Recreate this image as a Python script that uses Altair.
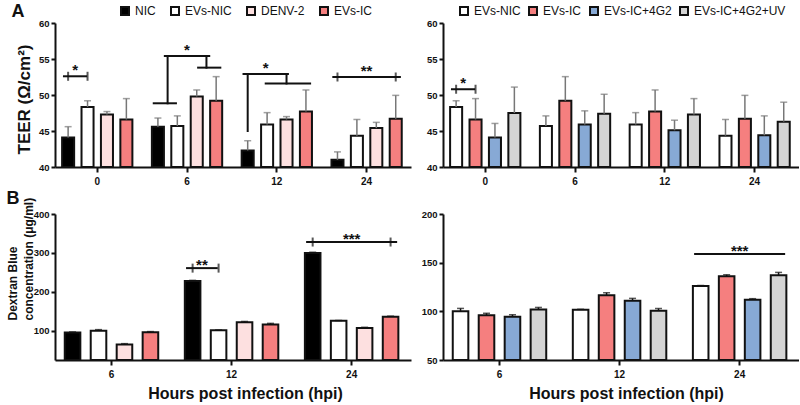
import altair as alt
import pandas as pd

FONT = "Liberation Sans"

TIMES_A = ["0", "6", "12", "24"]
TIMES_B = ["6", "12", "24"]
SERIES_LEFT = ["NIC", "EVs-NIC", "DENV-2", "EVs-IC"]
SERIES_RIGHT = ["EVs-NIC", "EVs-IC", "EVs-IC+4G2", "EVs-IC+4G2+UV"]
FILL = {
    "NIC": "#000000",
    "EVs-NIC": "#ffffff",
    "DENV-2": "#fde0e0",
    "EVs-IC": "#f57f7f",
    "EVs-IC+4G2": "#87a9d5",
    "EVs-IC+4G2+UV": "#d4d4d4",
}
# bracket anchor slots: even slots sit on bars 0..3, odd slots between neighbours
SLOTS = ["0", "1", "2", "3", "4", "5", "6"]
PANEL_LETTERS = ["A", "B"]
TEER_TITLE = "TEER (Ω/cm²)"
DEX_TITLE = ["Dextran Blue", "concentration  (μg/ml)"]
X_TITLE = "Hours post infection (hpi)"

# TEER (Ω/cm²): mean and SD at 0, 6, 12, 24 hpi
teer_nic = [44.1, 45.6, 42.3, 41.0]
teer_nic_sd = [1.5, 1.2, 1.35, 1.1]
teer_evs_nic = [48.35, 45.7, 45.9, 44.35]
teer_evs_nic_sd = [0.85, 1.4, 1.65, 2.25]
teer_denv = [47.3, 49.8, 46.6, 45.4]
teer_denv_sd = [0.4, 0.9, 0.4, 0.8]
teer_evs_ic = [46.6, 49.2, 47.7, 46.7]
teer_evs_ic_sd = [2.9, 3.35, 3.0, 3.25]
teer_4g2 = [44.1, 45.9, 45.1, 44.4]
teer_4g2_sd = [1.95, 1.9, 1.4, 2.7]
teer_uv = [47.5, 47.4, 47.3, 46.3]
teer_uv_sd = [3.6, 2.7, 2.2, 2.7]

# Dextran Blue concentration (μg/ml): mean and SD at 6, 12, 24 hpi
dex_nic = [95.5, 228, 300]
dex_nic_sd = [1.5, 1.5, 2]
dex_evs_nic = [100, 101.5, 126]
dex_evs_nic_sd = [3, 0.6, 0.5]
dex_denv = [65, 122, 107]
dex_denv_sd = [2, 2, 2]
dex_evs_ic = [96, 116.5, 136]
dex_evs_ic_sd = [2, 2.6, 1.6]
dex_4g2 = [94.5, 111, 112]
dex_4g2_sd = [2, 2.3, 1]
dex_uv = [102, 100.5, 137]
dex_uv_sd = [2, 2.4, 3]

# significance brackets: horizontal (time, slot a, slot b, level),
# vertical (time, slot, low, high), end caps (time, slot, level), stars (time, slot, level, text)
a_left_h = [("0", 0, 2, 52.6), ("6", 0, 2, 48.85), ("6", 1, 5, 55.4), ("6", 4, 6, 53.8),
            ("12", 0, 4, 52.9), ("12", 2, 6, 51.6), ("24", 0, 6, 52.5)]
a_left_v = [("6", 1, 48.85, 55.4), ("6", 5, 53.8, 55.4), ("12", 0, 45.0, 52.9), ("12", 4, 51.6, 52.9)]
a_left_caps = [("0", 0, 52.6), ("0", 2, 52.6), ("24", 0, 52.5), ("24", 6, 52.5)]
a_left_stars = [("0", 1, 52.6, "*"), ("6", 3, 55.4, "*"), ("12", 2, 52.9, "*"), ("24", 3, 52.5, "**")]

a_right_h = [("0", 0, 2, 50.8)]
a_right_caps = [("0", 0, 50.8), ("0", 2, 50.8)]
a_right_stars = [("0", 1, 50.8, "*")]

b_left_h = [("12", 0, 2, 261), ("24", 0, 6, 328)]
b_left_caps = [("12", 0, 261), ("12", 2, 261), ("24", 0, 328), ("24", 6, 328)]
b_left_stars = [("12", 1, 261, "**"), ("24", 3, 328, "***")]

b_right_h = [("24", 0, 6, 159)]
b_right_stars = [("24", 3, 159, "***")]

TEER_MEAN = {"NIC": teer_nic, "EVs-NIC": teer_evs_nic, "DENV-2": teer_denv, "EVs-IC": teer_evs_ic,
             "EVs-IC+4G2": teer_4g2, "EVs-IC+4G2+UV": teer_uv}
TEER_SD = {"NIC": teer_nic_sd, "EVs-NIC": teer_evs_nic_sd, "DENV-2": teer_denv_sd, "EVs-IC": teer_evs_ic_sd,
           "EVs-IC+4G2": teer_4g2_sd, "EVs-IC+4G2+UV": teer_uv_sd}
DEX_MEAN = {"NIC": dex_nic, "EVs-NIC": dex_evs_nic, "DENV-2": dex_denv, "EVs-IC": dex_evs_ic,
            "EVs-IC+4G2": dex_4g2, "EVs-IC+4G2+UV": dex_uv}
DEX_SD = {"NIC": dex_nic_sd, "EVs-NIC": dex_evs_nic_sd, "DENV-2": dex_denv_sd, "EVs-IC": dex_evs_ic_sd,
          "EVs-IC+4G2": dex_4g2_sd, "EVs-IC+4G2+UV": dex_uv_sd}


def bar_frame(times, series, means, sds):
    rows = []
    for s in series:
        for t, m, e in zip(times, means[s], sds[s]):
            rows.append({"time": t, "group": s, "mean": m, "top": m + e})
    return pd.DataFrame(rows)


def panel(times, series, means, sds, ydom, yticks, ytitle=None, xtitle=None,
          hlines=(), vlines=(), caps=(), stars=(), legend_x=None, legend_gap=7, letter=None,
          err_color="#777777", star_dy=-1, bar_pad=0.38, letter_pos=(0, 0),
          ytitle_pos=None, xtitle_pos=None, w=356, h=145):
    df = bar_frame(times, series, means, sds)
    x = alt.X("time:N", sort=times,
              scale=alt.Scale(domain=times, paddingInner=0.135, paddingOuter=0.05, align=0.38),
              axis=alt.Axis(labelAngle=0, labelFont=FONT, labelFontWeight="bold", labelFontSize=10,
                            labelColor="#111", labelPadding=4, tickSize=5, tickWidth=2, tickColor="#111",
                            domainColor="#111", domainWidth=2, title=xtitle, titleFont=FONT,
                            titleFontSize=16, titleFontWeight="bold", titleColor="#111",
                            **({"titleX": xtitle_pos[0], "titleY": xtitle_pos[1], "titleBaseline": "middle"}
                               if xtitle_pos else {})))
    yscale = alt.Scale(domain=ydom, nice=False, zero=False)
    yaxis_kw = dict(values=yticks, labelFont=FONT, labelFontWeight="bold", labelFontSize=9.5,
                    labelColor="#111", labelPadding=2, tickSize=4, tickWidth=2, tickColor="#111",
                    domainColor="#111", domainWidth=2, grid=False, title=ytitle, titleFont=FONT,
                    titleFontWeight="bold", titleColor="#111")
    if ytitle_pos:
        yaxis_kw.update(ytitle_pos)
    yaxis = alt.Axis(**yaxis_kw)
    xo_bar = alt.XOffset("group:N", sort=series,
                         scale=alt.Scale(domain=series, paddingInner=bar_pad, paddingOuter=bar_pad / 2))
    xo_slot = alt.XOffset("slot:N", sort=SLOTS,
                          scale=alt.Scale(domain=SLOTS, paddingInner=0, paddingOuter=0.5))

    legend = None
    if legend_x is not None:
        legend = alt.Legend(orient="none", legendX=legend_x, legendY=-18, direction="horizontal",
                            title=None, symbolType="square", symbolSize=64, symbolStrokeColor="#111",
                            symbolStrokeWidth=2, symbolOpacity=1, labelFont=FONT, labelFontSize=12,
                            labelColor="#111", labelOffset=4, columnPadding=legend_gap, padding=0)
    color = alt.Color("group:N", sort=series,
                      scale=alt.Scale(domain=series, range=[FILL[s] for s in series]), legend=legend)

    def yenc(field):
        return alt.Y(field, scale=yscale, axis=yaxis)

    layers = []
    base = alt.Chart(df)
    layers.append(base.mark_bar(stroke="#111", strokeWidth=2, opacity=1).encode(
        x=x, xOffset=xo_bar, y=yenc("mean:Q"), y2=alt.datum(ydom[0]), color=color))
    layers.append(base.mark_rule(color=err_color, strokeWidth=1.5).encode(
        x=x, xOffset=xo_bar, y=yenc("mean:Q"), y2="top:Q"))
    layers.append(base.mark_tick(color=err_color, thickness=1.5, size=7).encode(
        x=x, xOffset=xo_bar, y=yenc("top:Q")))

    if hlines:
        rows = []
        for i, (t, a, b, lvl) in enumerate(hlines):
            for s in (a, b):
                rows.append({"time": t, "slot": str(s), "level": lvl, "seg": i})
        layers.append(alt.Chart(pd.DataFrame(rows)).mark_line(
            color="#111", strokeWidth=2, strokeCap="square").encode(
            x=x, xOffset=xo_slot, y=yenc("level:Q"), detail="seg:N"))
    if vlines:
        vdf = pd.DataFrame([{"time": t, "slot": str(s), "lo": lo, "hi": hi} for t, s, lo, hi in vlines])
        layers.append(alt.Chart(vdf).mark_rule(color="#111", strokeWidth=2, strokeCap="square").encode(
            x=x, xOffset=xo_slot, y=yenc("lo:Q"), y2="hi:Q"))
    if caps:
        cdf = pd.DataFrame([{"time": t, "slot": str(s), "level": lvl} for t, s, lvl in caps])
        layers.append(alt.Chart(cdf).mark_tick(color="#111", orient="vertical", size=9, thickness=2).encode(
            x=x, xOffset=xo_slot, y=yenc("level:Q")))
    if stars:
        sdf = pd.DataFrame([{"time": t, "slot": str(s), "level": lvl, "txt": txt} for t, s, lvl, txt in stars])
        layers.append(alt.Chart(sdf).mark_text(font=FONT, fontWeight="bold", fontSize=15, color="#111",
                                               baseline="alphabetic", dy=star_dy).encode(
            x=x, xOffset=xo_slot, y=yenc("level:Q"), text="txt:N"))
    if letter is not None:
        ldf = pd.DataFrame({"letter": [letter]})
        layers.append(alt.Chart(ldf).mark_text(font=FONT, fontWeight="bold", fontSize=18, color="#111",
                                               baseline="middle", align="center").encode(
            text="letter:N", x=alt.value(letter_pos[0]), y=alt.value(letter_pos[1])))

    return alt.layer(*layers).resolve_scale(xOffset="independent").properties(width=w, height=h)


a_left = panel(TIMES_A, SERIES_LEFT, TEER_MEAN, TEER_SD, [40, 60], [40, 45, 50, 55, 60],
               ytitle=TEER_TITLE, hlines=a_left_h, vlines=a_left_v, caps=a_left_caps,
               stars=a_left_stars, legend_x=64, legend_gap=11, letter=PANEL_LETTERS[0],
               letter_pos=(-37, -11),
               ytitle_pos={"titleX": -31, "titleY": 76, "titleFontSize": 17, "titleBaseline": "middle"},
               h=144)
a_right = panel(TIMES_A, SERIES_RIGHT, TEER_MEAN, TEER_SD, [40, 60], [40, 45, 50, 55, 60],
                hlines=a_right_h, caps=a_right_caps, stars=a_right_stars, legend_x=15, legend_gap=4,
                h=144)
b_left = panel(TIMES_B, SERIES_LEFT, DEX_MEAN, DEX_SD, [25, 400], [100, 200, 300, 400],
               ytitle=DEX_TITLE, xtitle=X_TITLE, hlines=b_left_h, caps=b_left_caps, stars=b_left_stars,
               letter=PANEL_LETTERS[1], letter_pos=(-42, -15), err_color="#111", star_dy=2, bar_pad=0.4,
               ytitle_pos={"titleX": -43, "titleY": 106, "titleFontSize": 12, "titleAlign": "left",
                           "titleBaseline": "middle", "titleLineHeight": 16, "titleAngle": 270},
               xtitle_pos=(190, 33), h=146)
b_right = panel(TIMES_B, SERIES_RIGHT, DEX_MEAN, DEX_SD, [50, 200], [50, 100, 150, 200],
                xtitle=X_TITLE, hlines=b_right_h, stars=b_right_stars, err_color="#111", star_dy=2,
                bar_pad=0.4, xtitle_pos=(183, 33), h=146)

chart = alt.concat(
    a_left, a_right, b_left, b_right, columns=2, spacing={"row": 47, "column": 32}, bounds="flush"
).resolve_scale(color="independent").resolve_legend(color="independent").properties(
    padding={"left": 5, "top": 3, "right": 0, "bottom": 2}, background="white"
).configure_view(stroke=None)

chart.save("out.html", embed_options={"renderer": "svg", "actions": False})
